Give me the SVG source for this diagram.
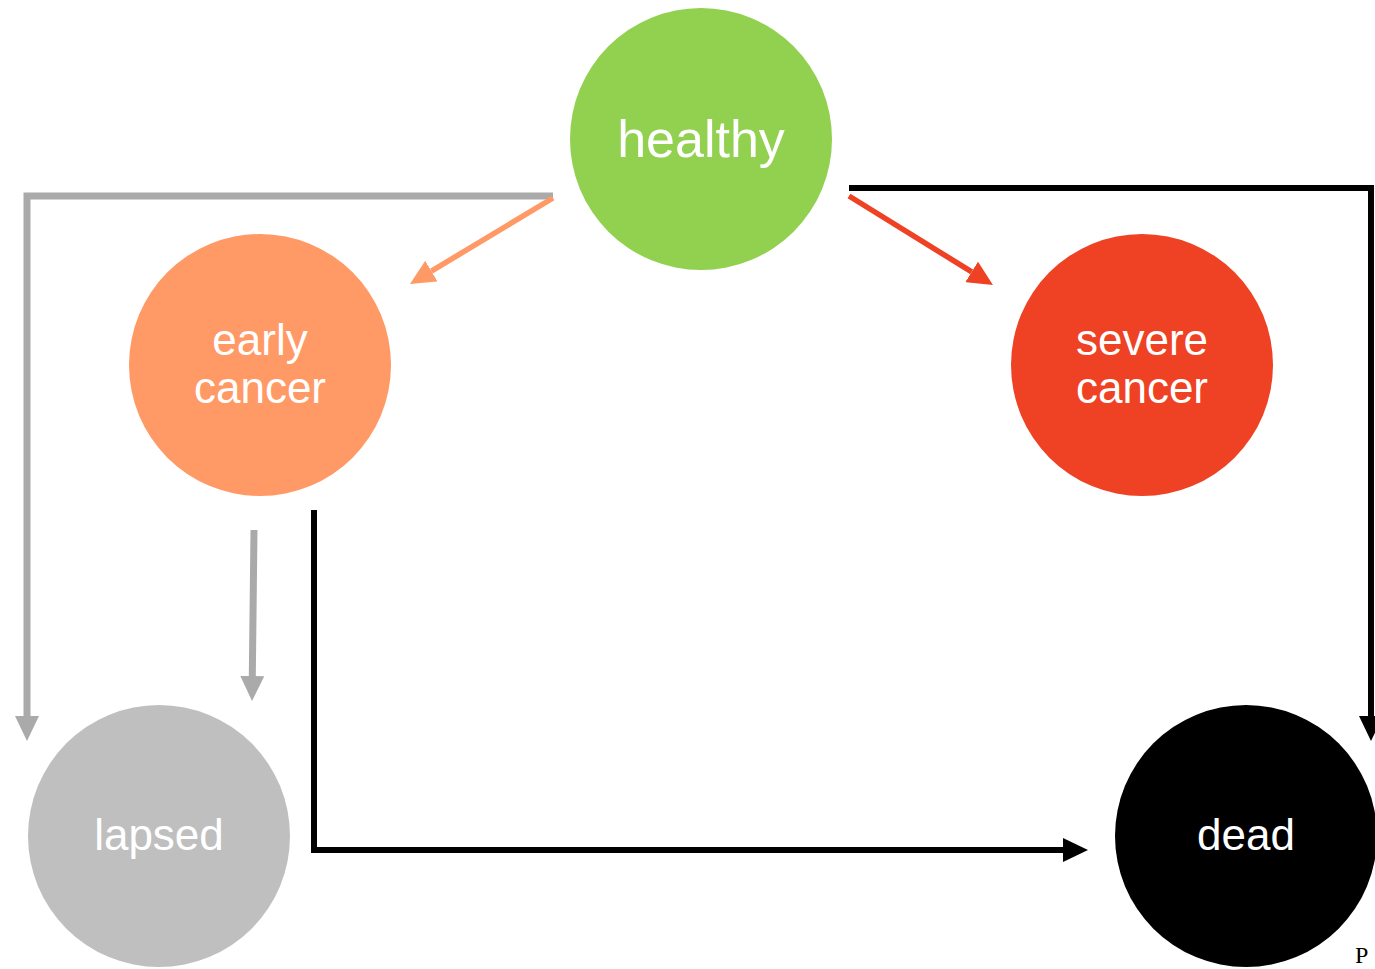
<svg xmlns="http://www.w3.org/2000/svg" width="1375" height="969" viewBox="0 0 1375 969">
  <style>
    .lbl { font-family: "Liberation Sans", Arial, sans-serif; fill: #ffffff; text-anchor: middle; }
    .big { font-size: 52px; }
    .mid { font-size: 44px; }
    .edge { fill: none; stroke-linejoin: miter; }
  </style>
  <defs>
    <!-- arrowheads sit just past the end of each line (refX=0) -->
    <marker id="ah-grey" viewBox="0 0 10 10" refX="0" refY="5" markerWidth="25" markerHeight="24" markerUnits="userSpaceOnUse" orient="auto" preserveAspectRatio="none">
      <path d="M0,0 L10,5 L0,10 Z" fill="#aaaaaa"/>
    </marker>
    <marker id="ah-black" viewBox="0 0 10 10" refX="0" refY="5" markerWidth="25" markerHeight="24" markerUnits="userSpaceOnUse" orient="auto" preserveAspectRatio="none">
      <path d="M0,0 L10,5 L0,10 Z" fill="#000000"/>
    </marker>
    <marker id="ah-orange" viewBox="0 0 10 10" refX="0" refY="5" markerWidth="25" markerHeight="24" markerUnits="userSpaceOnUse" orient="auto" preserveAspectRatio="none">
      <path d="M0,0 L10,5 L0,10 Z" fill="#ff9966"/>
    </marker>
    <marker id="ah-red" viewBox="0 0 10 10" refX="0" refY="5" markerWidth="25" markerHeight="24" markerUnits="userSpaceOnUse" orient="auto" preserveAspectRatio="none">
      <path d="M0,0 L10,5 L0,10 Z" fill="#ef4123"/>
    </marker>
  </defs>

  <rect width="1375" height="969" fill="#ffffff"/>

  <!-- transitions between states -->
  <g id="connectors">
    <path class="edge" d="M553,196 L27,196 L27,716" stroke="#aaaaaa" stroke-width="7" marker-end="url(#ah-grey)"/>
    <path class="edge" d="M553,198 L431.4,271.1" stroke="#ff9966" stroke-width="5.5" marker-end="url(#ah-orange)"/>
    <path class="edge" d="M849,196 L971.7,271.9" stroke="#ef4123" stroke-width="5.5" marker-end="url(#ah-red)"/>
    <path class="edge" d="M849,188 L1371,188 L1371,716" stroke="#000000" stroke-width="6" marker-end="url(#ah-black)"/>
    <path class="edge" d="M254,530 L252.3,676" stroke="#aaaaaa" stroke-width="7" marker-end="url(#ah-grey)"/>
    <path class="edge" d="M314,510 L314,850 L1063,850" stroke="#000000" stroke-width="6" marker-end="url(#ah-black)"/>
  </g>

  <g id="healthy">
    <circle cx="701" cy="139" r="131" fill="#92d050"/>
    <text class="lbl big" x="701" y="157">healthy</text>
  </g>
  <g id="early-cancer">
    <circle cx="260" cy="365" r="131" fill="#ff9966"/>
    <text class="lbl mid" x="260" y="355">early</text>
    <text class="lbl mid" x="260" y="403">cancer</text>
  </g>
  <g id="severe-cancer">
    <circle cx="1142" cy="365" r="131" fill="#ef4123"/>
    <text class="lbl mid" x="1142" y="355">severe</text>
    <text class="lbl mid" x="1142" y="403">cancer</text>
  </g>
  <g id="lapsed">
    <circle cx="159" cy="836" r="131" fill="#bfbfbf"/>
    <text class="lbl mid" x="159" y="850">lapsed</text>
  </g>
  <g id="dead">
    <circle cx="1246" cy="836" r="131" fill="#000000"/>
    <text class="lbl mid" x="1246" y="850">dead</text>
  </g>

  <text x="1355" y="963" font-family="'Liberation Serif', 'Times New Roman', serif" font-size="24" fill="#000000">P</text>
</svg>
